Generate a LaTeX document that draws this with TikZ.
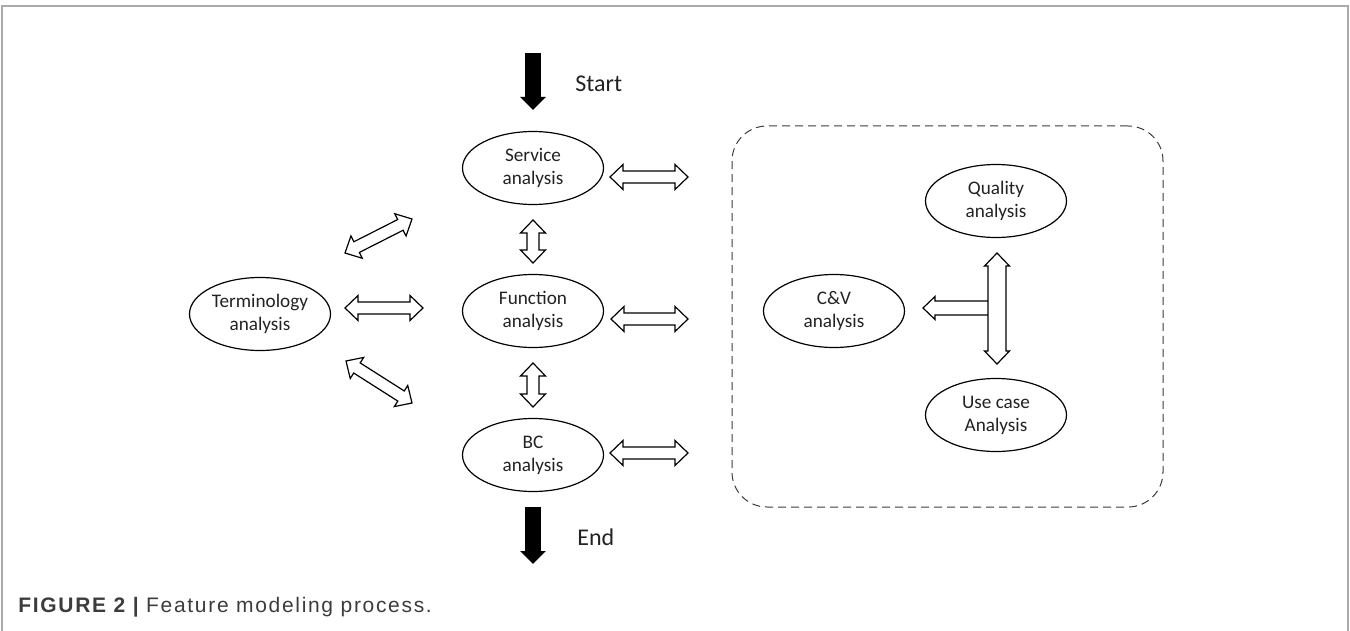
\documentclass[tikz,border=0pt]{standalone}
\usepackage{fontspec}
\setmainfont{Carlito}
\newfontfamily\capfont[LetterSpace=8]{Liberation Sans}
\usepackage{xcolor}
\definecolor{Col1}{RGB}{34,34,34}
\definecolor{Col2}{RGB}{170,170,170}
\definecolor{Col3}{RGB}{60,60,60}
\usepackage{tikz}
\usetikzlibrary{shapes.geometric}
\usetikzlibrary{arrows.meta}
\usetikzlibrary{calc}
\tikzstyle{Node}=[ellipse,draw=black,line width=.6pt,inner sep=0pt,
minimum width=70.5pt,minimum height=36.5pt,align=center,text=Col1,
font=\fontsize{9.6}{11.5}\selectfont]
\tikzstyle{Label}=[anchor=west,inner sep=0pt,text=Col1,
font=\fontsize{12}{14}\selectfont]
\tikzstyle{Solid}=[line width=8pt,-{Triangle[length=6.5pt,width=12.5pt]}]
\tikzstyle{Box}=[draw=Col3,line width=.5pt,dash pattern=on 4pt off 2.5pt,
rounded corners=17.5pt,minimum width=215.5pt,minimum height=190.5pt]
\tikzstyle{Frame}=[draw=Col2,line width=.8pt]
\tikzstyle{Caption}=[anchor=base west,inner sep=0pt,text=Col3,
font=\capfont\fontsize{10.5}{12}\selectfont]
\tikzset{
  DArrow/.style={draw=black,fill=white,line width=.6pt,line join=miter,
    to path={let \p1=(\tikztostart),\p2=(\tikztotarget),
      \p3=($(\p1)!6.5pt!(\p2)$),\p4=($(\p2)!6.5pt!(\p1)$) in
      -- ($(\p3)!6.25pt!90:(\p2)$) -- ($(\p3)!#1!90:(\p2)$)
      -- ($(\p4)!#1!-90:(\p1)$) -- ($(\p4)!6.25pt!-90:(\p1)$)
      -- (\p2)
      -- ($(\p4)!6.25pt!90:(\p1)$) -- ($(\p4)!#1!90:(\p1)$)
      -- ($(\p3)!#1!-90:(\p2)$) -- ($(\p3)!6.25pt!-90:(\p2)$)
      -- cycle}},
  DArrow/.default=3pt,
  SArrow/.style={draw=black,fill=white,line width=.6pt,line join=miter,
    to path={let \p1=(\tikztostart),\p2=(\tikztotarget),
      \p4=($(\p2)!6pt!(\p1)$) in
      -- ($(\p1)!#1!90:(\p2)$)
      -- ($(\p4)!#1!-90:(\p1)$) -- ($(\p4)!5.75pt!-90:(\p1)$)
      -- (\p2)
      -- ($(\p4)!5.75pt!90:(\p1)$) -- ($(\p4)!#1!90:(\p1)$)
      -- ($(\p1)!#1!-90:(\p2)$)
      -- cycle}},
  SArrow/.default=3.5pt}

\begin{document}
\begin{tikzpicture}[x=.5pt,y=-.5pt]
    \useasboundingbox(0,0)rectangle(1350,631);
    \draw[Frame](2,631)--(2,6)--(1348,6)--(1348,631);
    % feature analysis steps
    \node[Node](term)at(260,314){Terminology\\analysis};
    \node[Node](serv)at(533,168){Service\\analysis};
    \node[Node](func)at(533,311){Function\\analysis};
    \node[Node](bc)at(533,455){BC\\analysis};
    \node[Box](box)at(947.5,316.5){};
    \node[Node](qual)at(996,201){Quality\\analysis};
    \node[Node](cv)at(834,311){C\&V\\analysis};
    \node[Node](use)at(996,415){Use case\\Analysis};
    \node[Label](start)at(575,84){Start};
    \node[Label](end)at(577,537){End};
    % arrow ends
    \coordinate(s0)at(533,53);
    \coordinate(s1)at(533,110);
    \coordinate(e0)at(533,507);
    \coordinate(e1)at(533,564);
    \coordinate(a1)at(533,220);
    \coordinate(a2)at(533,263);
    \coordinate(b1)at(533,363);
    \coordinate(b2)at(533,407);
    \coordinate(c1)at(345,253);
    \coordinate(c2)at(412,219);
    \coordinate(d1)at(345,308);
    \coordinate(d2)at(423,308);
    \coordinate(f1)at(346,361);
    \coordinate(f2)at(412,403);
    \coordinate(g1)at(610,177);
    \coordinate(g2)at(688,177);
    \coordinate(h1)at(611,319);
    \coordinate(h2)at(688,319);
    \coordinate(k1)at(610,453);
    \coordinate(k2)at(688,453);
    \coordinate(m1)at(997,253);
    \coordinate(m2)at(997,364);
    \coordinate(n1)at(993,308);
    \coordinate(n2)at(923,308);
    \draw[Solid](s0)--(s1);
    \draw[Solid](e0)--(e1);
    \path[DArrow](a1)to(a2);
    \path[DArrow](b1)to(b2);
    \path[DArrow](c1)to(c2);
    \path[DArrow](d1)to(d2);
    \path[DArrow](f1)to(f2);
    \path[DArrow](g1)to(g2);
    \path[DArrow](h1)to(h2);
    \path[DArrow](k1)to(k2);
    \path[SArrow](n1)to(n2);
    \path[DArrow=4.5pt](m1)to(m2);
    \node[Caption](cap)at(18,612){{\bfseries FIGURE 2 |} Feature modeling process.};
\end{tikzpicture}
\end{document}
